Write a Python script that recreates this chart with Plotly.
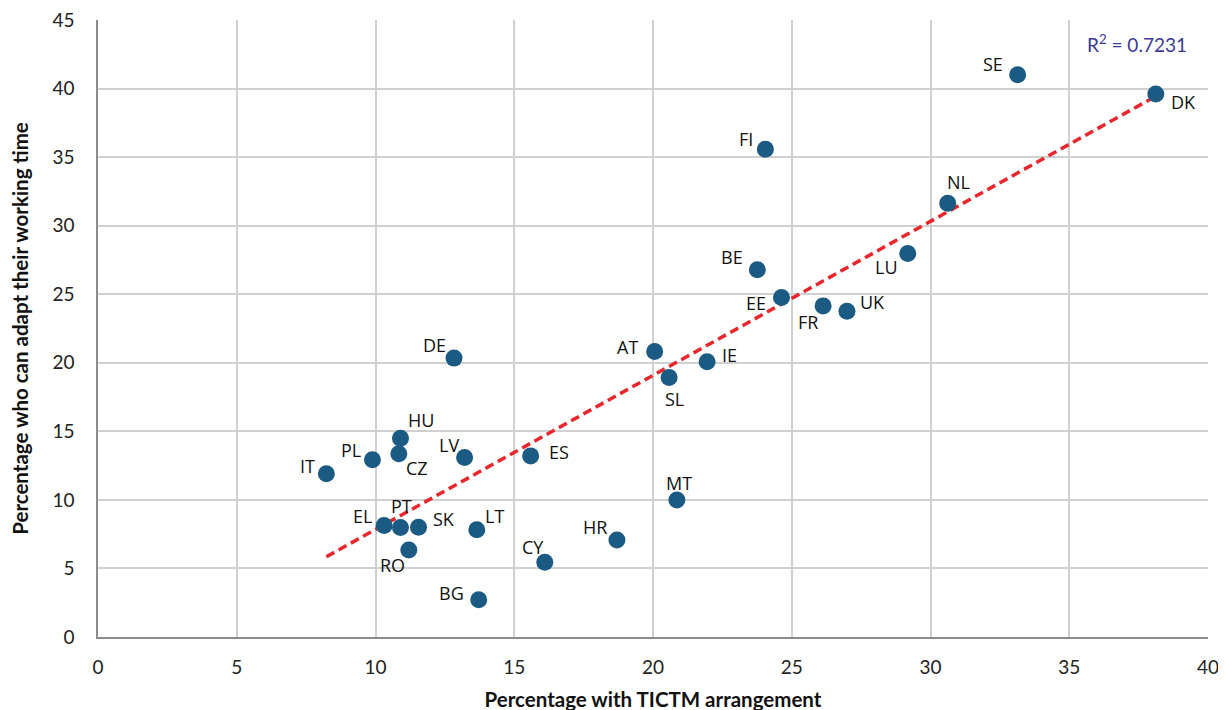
import numpy as np
import plotly.graph_objects as go

countries = ["SE", "DK", "FI", "NL", "LU", "BE", "EE", "FR", "UK", "DE", "AT", "IE", "SL",
             "HU", "CZ", "PL", "IT", "LV", "ES", "MT", "EL", "PT", "SK", "RO", "LT", "CY", "HR", "BG"]
tictm = [33.14, 38.12, 24.05, 30.62, 29.18, 23.76, 24.63, 26.13, 26.99, 12.83, 20.06, 21.95, 20.58,
         10.90, 10.84, 9.89, 8.23, 13.21, 15.59, 20.86, 10.31, 10.90, 11.55, 11.20, 13.65, 16.10, 18.70, 13.72]
adapt = [41.0, 39.61, 35.58, 31.64, 27.97, 26.78, 24.76, 24.15, 23.76, 20.34, 20.82, 20.07, 18.92,
         14.50, 13.36, 12.92, 11.90, 13.09, 13.21, 10.0, 8.13, 7.98, 8.01, 6.35, 7.83, 5.46, 7.08, 2.71]
r2_label = "R<sup>2</sup> = 0.7231"
x_ticks = [0, 5, 10, 15, 20, 25, 30, 35, 40]
y_ticks = [0, 5, 10, 15, 20, 25, 30, 35, 40, 45]

# label offsets in pixels (dx right, dy down)
label_offsets = {
    "SE": (-25, -11), "DK": (28, 8), "FI": (-19, -10), "NL": (11, -21), "LU": (-21, 13),
    "BE": (-25, -13), "EE": (-25, 5), "FR": (-15, 16), "UK": (26, -9), "DE": (-20, -13),
    "AT": (-27, -5), "IE": (22, -7), "SL": (5, 21), "HU": (21, -18), "CZ": (18, 14),
    "PL": (-21, -10), "IT": (-19, -8), "LV": (-16, -13), "ES": (28, -4), "MT": (2, -17),
    "EL": (-22, -10), "PT": (1, -22), "SK": (25, -8), "RO": (-16, 15), "LT": (18, -14),
    "CY": (-12, -15), "HR": (-22, -13), "BG": (-27, -7),
}

xa = np.array(tictm)
ya = np.array(adapt)
slope, intercept = np.polyfit(xa, ya, 1)
x_line = np.array([xa.min(), xa.max()])
y_line = slope * x_line + intercept

fig = go.Figure()
fig.add_trace(go.Scatter(
    x=x_line, y=y_line, mode="lines",
    line=dict(color="#E8262B", width=3.5, dash="9px,5px"),
    hoverinfo="skip", showlegend=False,
))
fig.add_trace(go.Scatter(
    x=tictm, y=adapt, mode="markers",
    marker=dict(size=17, color="#1B5A83", line=dict(width=0)),
    text=countries, showlegend=False,
))

annotations = []
for c, xv, yv in zip(countries, tictm, adapt):
    dx, dy = label_offsets[c]
    annotations.append(dict(
        x=xv, y=yv, xref="x", yref="y", text=c, showarrow=False,
        xanchor="center", yanchor="middle", xshift=dx, yshift=-dy,
        font=dict(family="Open Sans", size=18, color="#111111"),
    ))
annotations.append(dict(
    x=37.43, y=43.3, xref="x", yref="y", text=r2_label, showarrow=False,
    xanchor="center", yanchor="middle",
    font=dict(family="Lato", size=19, color="#3A3A98"),
))

fig.update_layout(
    width=1226, height=710,
    margin=dict(l=90, r=26, t=12, b=81),
    paper_bgcolor="white", plot_bgcolor="white",
    annotations=annotations,
    xaxis=dict(
        range=[0, 40], tickvals=x_ticks, ticktext=[str(v) for v in x_ticks],
        showgrid=True, gridcolor="#D0D0D0", gridwidth=1.5,
        showline=True, linecolor="#8C8C8C", linewidth=1.5,
        zeroline=False, ticks="", ticklabelstandoff=12, automargin=False,
        ticklabeloverflow="allow",
        tickfont=dict(family="Lato", size=19, color="#222222"),
        title=dict(text="<b>Percentage with TICTM arrangement</b>", standoff=16,
                   font=dict(family="Lato", size=20.5, color="#111111")),
    ),
    yaxis=dict(
        range=[0, 45], tickvals=y_ticks, ticktext=[str(v) for v in y_ticks],
        showgrid=True, gridcolor="#D0D0D0", gridwidth=1.5,
        showline=True, linecolor="#8C8C8C", linewidth=1.5,
        zeroline=False, ticks="", ticklabelstandoff=18, automargin=False,
        ticklabeloverflow="allow",
        tickfont=dict(family="Lato", size=19, color="#222222"),
        title=dict(text="<b>Percentage who can adapt their working time</b>", standoff=22,
                   font=dict(family="Lato", size=20.5, color="#111111")),
    ),
)

fig.write_html("out.html")
